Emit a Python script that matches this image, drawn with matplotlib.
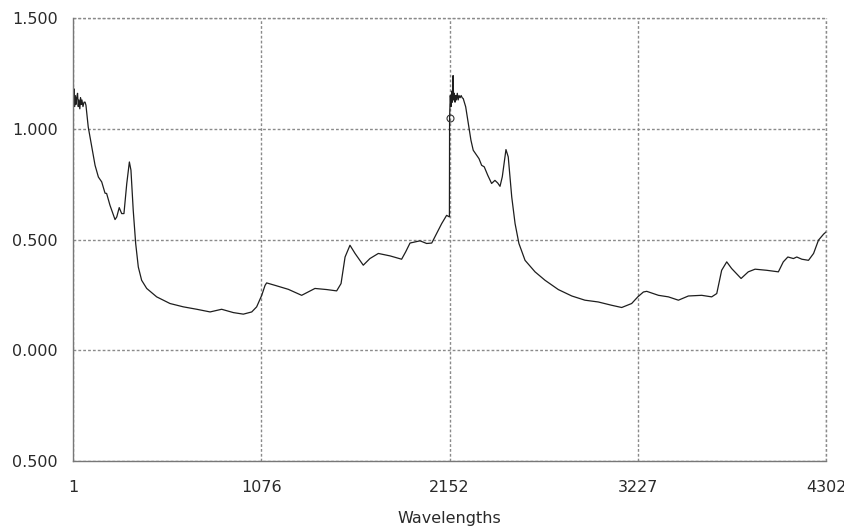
import matplotlib.pyplot as plt
from matplotlib.ticker import FixedLocator

# spectrum 1 (indices 1..2151)
idx_a = [1, 3, 7, 10, 14, 18, 22, 27, 31, 35, 40, 44, 48, 52, 58, 64, 70, 75,
         88, 108, 127, 146, 165, 184, 193, 212, 241, 251, 265, 279, 292, 308,
         323, 332, 345, 359, 374, 393, 422, 479, 555, 631, 708, 784, 850, 917,
         974, 1022, 1050, 1079, 1098, 1107, 1155, 1231, 1307, 1383, 1450, 1507,
         1532, 1555, 1583, 1612, 1659, 1697, 1745, 1812, 1878, 1901, 1926, 1983,
         2021, 2050, 2078, 2107, 2135, 2151]
val_a = [1.00, 1.12, 1.18, 1.10, 1.15, 1.11, 1.14, 1.16, 1.10, 1.13, 1.09, 1.14,
         1.11, 1.13, 1.10, 1.12, 1.12, 1.106,
         1.008, 0.918, 0.835, 0.782, 0.760, 0.709, 0.708, 0.655, 0.590, 0.602,
         0.644, 0.617, 0.617, 0.752, 0.850, 0.813, 0.632, 0.482, 0.376, 0.316,
         0.279, 0.241, 0.211, 0.196, 0.185, 0.173, 0.185, 0.170, 0.163, 0.173,
         0.196, 0.248, 0.293, 0.304, 0.293, 0.275, 0.248, 0.279, 0.274, 0.268,
         0.301, 0.421, 0.474, 0.437, 0.384, 0.414, 0.437, 0.426, 0.411, 0.444,
         0.484, 0.494, 0.482, 0.484, 0.527, 0.572, 0.609, 0.602]

# spectrum 2 (indices 2152..4302)
idx_b = [2152, 2156, 2160, 2164, 2168, 2172, 2175, 2179, 2183, 2187, 2191, 2196,
         2201, 2206, 2212, 2218, 2224, 2230, 2244, 2259, 2274, 2287, 2307, 2320,
         2335, 2350, 2370, 2392, 2411, 2427, 2440, 2453, 2474, 2487, 2507, 2526,
         2548, 2583, 2640, 2697, 2773, 2850, 2925, 3001, 3078, 3135, 3192, 3227,
         3259, 3278, 3345, 3402, 3459, 3516, 3592, 3649, 3678, 3706, 3735, 3763,
         3817, 3858, 3897, 3963, 4030, 4058, 4084, 4116, 4135, 4164, 4202, 4231,
         4259, 4288, 4302]
val_b = [1.05, 1.15, 1.10, 1.17, 1.12, 1.24, 1.13, 1.16, 1.12, 1.15, 1.13, 1.16,
         1.13, 1.15, 1.14, 1.15, 1.14, 1.136, 1.099, 1.023, 0.948, 0.903, 0.880,
         0.865, 0.835, 0.828, 0.790, 0.753, 0.767, 0.755, 0.740, 0.783, 0.906,
         0.873, 0.692, 0.572, 0.482, 0.406, 0.354, 0.316, 0.274, 0.245, 0.226,
         0.218, 0.203, 0.193, 0.211, 0.241, 0.263, 0.266, 0.248, 0.241, 0.226,
         0.245, 0.248, 0.241, 0.256, 0.361, 0.399, 0.369, 0.324, 0.354, 0.366,
         0.361, 0.354, 0.399, 0.421, 0.414, 0.421, 0.411, 0.406, 0.437, 0.497,
         0.524, 0.534]

x_ticks = [1, 1076, 2152, 3227, 4302]
y_ticks = [-0.5, 0.0, 0.5, 1.0, 1.5]
y_tick_labels = ["0.500", "0.000", "0.500", "1.000", "1.500"]

txt = "#2a2a2a"
grid_c = "#8a8a8a"
dots = (0, (2, 1.5))

fig = plt.figure(figsize=(8.45, 5.26), dpi=100)
ax = fig.add_axes([73 / 845, 1 - 461 / 526, 753 / 845, 443 / 526])

ax.plot(idx_a + idx_b, val_a + val_b, color="#1e1e1e", linewidth=0.9)
# cursor marker at the join
ax.plot([idx_b[0]], [val_b[0]], marker="o", markersize=5, mfc="none",
        mec="#333333", mew=0.8, linestyle="none")

ax.set_xlim(1, 4302)
ax.set_ylim(-0.5, 1.5)
ax.xaxis.set_major_locator(FixedLocator(x_ticks))
ax.set_xticklabels([str(t) for t in x_ticks])
ax.yaxis.set_major_locator(FixedLocator(y_ticks))
ax.set_yticklabels(y_tick_labels)

ax.tick_params(length=0, labelsize=11.5, colors=txt)
ax.tick_params(axis="x", pad=14)
ax.tick_params(axis="y", pad=11)

ax.grid(True, color=grid_c, linestyle=dots, linewidth=1)
for s in ("top", "right"):
    ax.spines[s].set_visible(False)
for s in ("left", "bottom"):
    ax.spines[s].set_color("#777777")
    ax.spines[s].set_linewidth(1)

# dotted frame on top/right like the grid
ax.axhline(1.5, color=grid_c, linestyle=dots, linewidth=1, clip_on=False)
ax.axvline(4302, color=grid_c, linestyle=dots, linewidth=1, clip_on=False)

ax.set_xlabel("Wavelengths", fontsize=11.5, color=txt, labelpad=11)

fig.savefig("out.png", dpi=100)
